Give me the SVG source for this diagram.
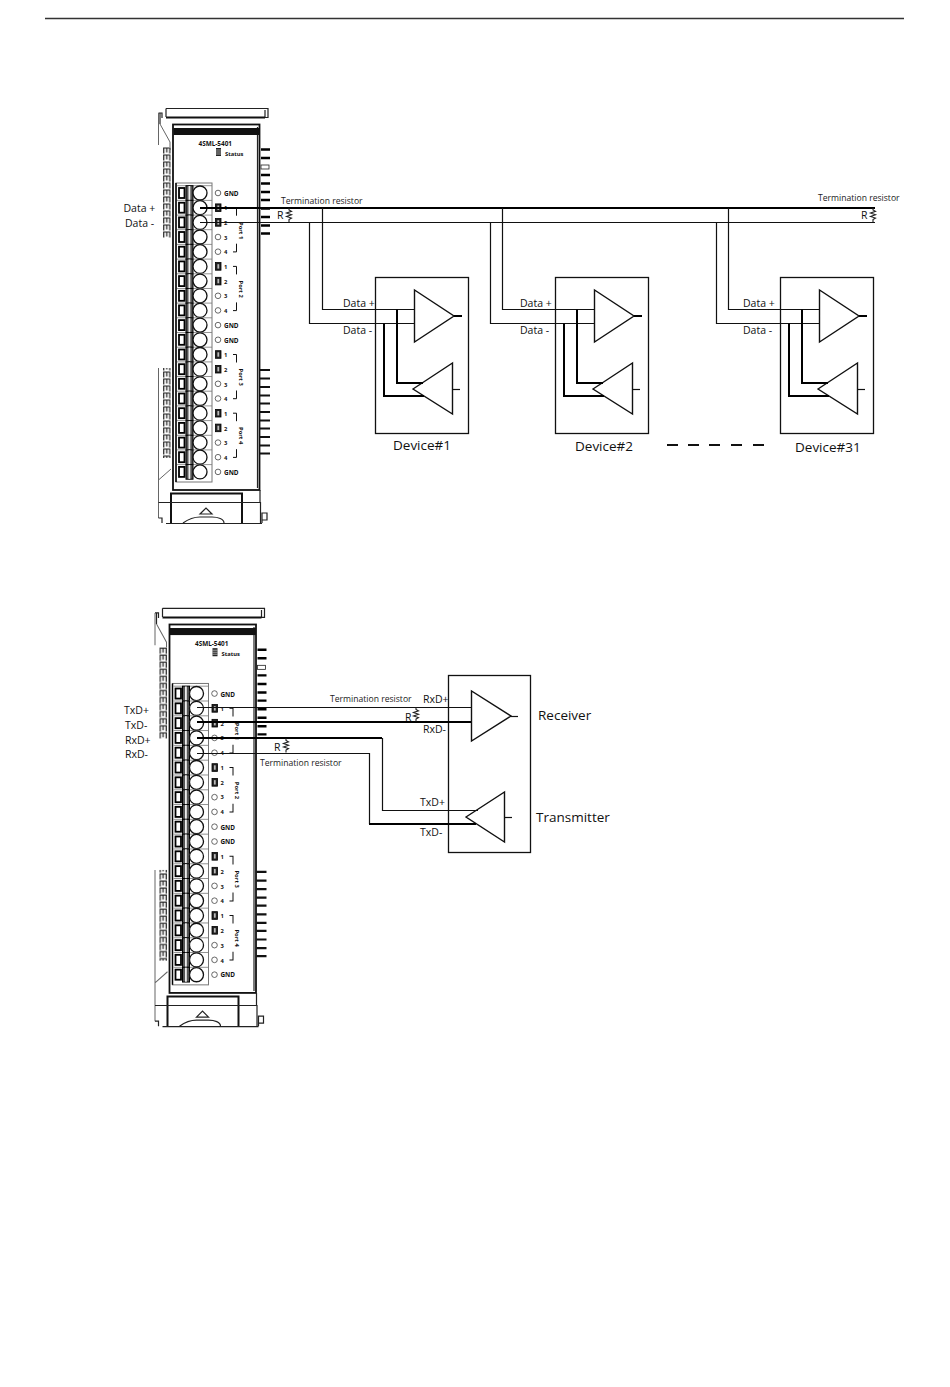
<svg xmlns="http://www.w3.org/2000/svg" xmlns:xlink="http://www.w3.org/1999/xlink" width="950" height="1387" viewBox="0 0 950 1387">
<style>
text{font-family:"Open Sans","Noto Sans","Liberation Sans",sans-serif;fill:#111}
.lab{font-size:10.5px}
.term{font-size:8.6px;fill:#222}
.dev{font-size:13.5px}
.m{font-size:5.8px;font-weight:700}
.mg{font-size:6.4px;font-weight:700}
.o{fill:none;stroke:#222;stroke-width:1.2}
.ob{fill:none;stroke:#111;stroke-width:2}
.g{fill:none;stroke:#666;stroke-width:1}
.tri{fill:#fff;stroke:#111;stroke-width:1.400}
.box{fill:#fff;stroke:#111;stroke-width:1.300}
.thin{fill:none;stroke:#111;stroke-width:1.200}
.thick{fill:none;stroke:#000;stroke-width:2}
.res{fill:none;stroke:#222;stroke-width:1.100}
</style>
<defs>
<pattern id="fin" width="7.500" height="7" patternUnits="userSpaceOnUse" x="163" y="147">
<rect width="7.500" height="7" fill="#fff"/>
<path d="M.7 6.500V1H6.800V6.500M3.700 1V5.500" fill="none" stroke="#222" stroke-width="1.200"/>
</pattern>
<g id="row">
<path d="M177 -7.300H212" fill="none" stroke="#777" stroke-width=".8"/>
<rect x="179" y="-5" width="5.500" height="10" fill="#fff" stroke="#000" stroke-width="1.800"/>
<rect x="186" y="-7.300" width="7" height="14.600" fill="#555" stroke="#000" stroke-width="1"/>
<rect x="188.500" y="-7" width="1.800" height="14" fill="#eee"/>
<circle cx="200" cy="0" r="7" fill="#fff" stroke="#111" stroke-width="1.300"/>
</g>
<circle id="pin" cx="218" cy="0" r="2.800" fill="#fff" stroke="#444" stroke-width=".8"/>
<g id="led"><rect x="215.500" y="-3.800" width="5.500" height="7.600" fill="#222" stroke="#000" stroke-width=".8"/><rect x="217.400" y="-2.200" width="1.800" height="4.400" fill="#bbb"/></g>
<path id="bracket" d="M233 0H236.500V8M236.500 36V44.200H233" fill="none" stroke="#111" stroke-width="1"/>
<g id="module-art">
<path class="o" d="M166 108.500H268V117.500H265V110"/>
<path class="ob" d="M166 117.500H265"/>
<path class="o" d="M166 108.500V117M160 113V124M158.500 113H162V118"/>
<path class="g" d="M160 124L170 142V150M158.500 113V145M158.500 368V518M171 469L158.500 480"/>
<rect x="173" y="124.500" width="86.500" height="365.500" fill="#fff" stroke="#111" stroke-width="1.800"/>
<path class="o" d="M257.500 127V488"/>
<rect x="173.500" y="128" width="86" height="7" fill="#111"/>
<rect x="163" y="147" width="7.500" height="91" fill="url(#fin)"/>
<rect x="163" y="368" width="7.500" height="90" fill="url(#fin)"/>
<path d="M261 149.500H270M261 158H270M261 175H270M261 183.500H270M261 192H270M261 200H270M261 208.500H270M261 217H270M261 225.500H270M261 233.500H270" stroke="#000" stroke-width="2.400" fill="none"/>
<rect x="261" y="165" width="8" height="4" fill="#fff" stroke="#222" stroke-width=".8"/>
<path d="M260 370H270M260 378.500H270M260 387H270M260 395.500H270M260 403.500H270M260 412H270M260 420.500H270M260 428.500H270M260 437H270M260 445.500H270M260 453.500H270" stroke="#111" stroke-width="2.200" fill="none"/>
<rect x="176" y="183" width="36" height="299" fill="#fff" stroke="#777" stroke-width="1"/>
<path d="M176 183V482" stroke="#000" stroke-width="1.500" fill="none"/>
<use xlink:href="#row" y="193"/><use xlink:href="#row" y="207.700"/><use xlink:href="#row" y="222.400"/><use xlink:href="#row" y="237"/><use xlink:href="#row" y="251.700"/><use xlink:href="#row" y="266.400"/><use xlink:href="#row" y="281.100"/><use xlink:href="#row" y="295.800"/><use xlink:href="#row" y="310.400"/><use xlink:href="#row" y="325.100"/><use xlink:href="#row" y="339.800"/><use xlink:href="#row" y="354.500"/><use xlink:href="#row" y="369.200"/><use xlink:href="#row" y="383.800"/><use xlink:href="#row" y="398.500"/><use xlink:href="#row" y="413.200"/><use xlink:href="#row" y="427.900"/><use xlink:href="#row" y="442.600"/><use xlink:href="#row" y="457.200"/><use xlink:href="#row" y="471.900"/>
<use xlink:href="#pin" y="193"/><use xlink:href="#pin" y="237"/><use xlink:href="#pin" y="251.700"/><use xlink:href="#pin" y="295.800"/><use xlink:href="#pin" y="310.400"/><use xlink:href="#pin" y="325.100"/><use xlink:href="#pin" y="339.800"/><use xlink:href="#pin" y="383.800"/><use xlink:href="#pin" y="398.500"/><use xlink:href="#pin" y="442.600"/><use xlink:href="#pin" y="457.200"/><use xlink:href="#pin" y="471.900"/>
<use xlink:href="#led" y="207.700"/><use xlink:href="#led" y="222.400"/><use xlink:href="#led" y="266.400"/><use xlink:href="#led" y="281.100"/><use xlink:href="#led" y="354.500"/><use xlink:href="#led" y="369.200"/><use xlink:href="#led" y="413.200"/><use xlink:href="#led" y="427.900"/>
<use xlink:href="#bracket" y="207.700"/><use xlink:href="#bracket" y="266.400"/><use xlink:href="#bracket" y="354.500"/><use xlink:href="#bracket" y="413.200"/>
<rect x="216" y="148" width="5" height="8" fill="#222"/><path d="M216 150H221M216 152H221M216 154H221" stroke="#fff" stroke-width=".6"/>
<path class="ob" d="M171 523V493.500H242V523"/>
<path class="o" d="M158.500 502.500H260.500V523M260 490V502M166 523.500H262M158.500 518H162V523M262 523V513H267V520H262"/>
<path class="o" d="M200 514L206 508L212 514Z"/>
<path class="o" d="M183 523C190 518 194 517 200 517H212C218 517 224 519 224 523"/>
</g>
<g id="dev-art">
<rect class="box" x="375.500" y="277.500" width="93" height="156"/>
<path class="tri" d="M414.500 290V342L454 316Z"/>
<path class="thick" d="M454 316H462"/>
<path class="tri" d="M413 389L452.500 363V414Z"/>
<path class="thin" d="M452 389.500H460"/>
<path class="thin" d="M375.500 309.500H414.500M375.500 323.500H414.500"/>
<path class="thick" d="M397 309.500V383H423"/>
<path class="thick" d="M384 323.500V396H424"/>
</g>
<path id="zig" class="res" d="M0 0V2L2.500 3.300L-2.500 5L2.500 6.700L-2.500 8.400L2.500 10.100L0 11.500V14"/>
</defs>

<path id="page-rule" d="M45 18.500H904" stroke="#333" stroke-width="1.300" fill="none"/>

<g id="module-1">
<use xlink:href="#module-art"/>
<text class="mg" x="198.500" y="146">4SML-5401</text>
<text class="m" x="225" y="156">Status</text>
<text class="mg" x="224" y="196">GND</text>
<text class="m" x="224" y="210">1</text><text class="m" x="224" y="225">2</text><text class="m" x="224" y="239.500">3</text><text class="m" x="224" y="254">4</text>
<text class="m" x="224" y="269">1</text><text class="m" x="224" y="283.500">2</text><text class="m" x="224" y="298">3</text><text class="m" x="224" y="313">4</text>
<text class="mg" x="224" y="328">GND</text><text class="mg" x="224" y="342.500">GND</text>
<text class="m" x="224" y="357">1</text><text class="m" x="224" y="372">2</text><text class="m" x="224" y="386.500">3</text><text class="m" x="224" y="401">4</text>
<text class="m" x="224" y="416">1</text><text class="m" x="224" y="430.500">2</text><text class="m" x="224" y="445">3</text><text class="m" x="224" y="460">4</text>
<text class="mg" x="224" y="474.500">GND</text>
<text class="m" transform="translate(238.500 222) rotate(90)">Port 1</text>
<text class="m" transform="translate(238.500 280.500) rotate(90)">Port 2</text>
<text class="m" transform="translate(238.500 368.500) rotate(90)">Port 3</text>
<text class="m" transform="translate(238.500 427) rotate(90)">Port 4</text>
</g>

<g id="module-2" transform="translate(-3.500 499) scale(1 1.008)">
<use xlink:href="#module-art"/>
<text class="mg" x="198.500" y="146">4SML-5401</text>
<text class="m" x="225" y="156">Status</text>
<text class="mg" x="224" y="196">GND</text>
<text class="m" x="224" y="210">1</text><text class="m" x="224" y="225">2</text><text class="m" x="224" y="239.500">3</text><text class="m" x="224" y="254">4</text>
<text class="m" x="224" y="269">1</text><text class="m" x="224" y="283.500">2</text><text class="m" x="224" y="298">3</text><text class="m" x="224" y="313">4</text>
<text class="mg" x="224" y="328">GND</text><text class="mg" x="224" y="342.500">GND</text>
<text class="m" x="224" y="357">1</text><text class="m" x="224" y="372">2</text><text class="m" x="224" y="386.500">3</text><text class="m" x="224" y="401">4</text>
<text class="m" x="224" y="416">1</text><text class="m" x="224" y="430.500">2</text><text class="m" x="224" y="445">3</text><text class="m" x="224" y="460">4</text>
<text class="mg" x="224" y="474.500">GND</text>
<text class="m" transform="translate(238.500 222) rotate(90)">Port 1</text>
<text class="m" transform="translate(238.500 280.500) rotate(90)">Port 2</text>
<text class="m" transform="translate(238.500 368.500) rotate(90)">Port 3</text>
<text class="m" transform="translate(238.500 427) rotate(90)">Port 4</text>
</g>

<g id="device-1"><use xlink:href="#dev-art"/><text class="dev" x="393" y="450">Device#1</text></g>
<g id="device-2"><use xlink:href="#dev-art" x="180"/><text class="dev" x="575" y="451">Device#2</text></g>
<g id="device-31"><use xlink:href="#dev-art" x="405"/><text class="dev" x="795" y="452">Device#31</text></g>

<g id="rx-tx-device">
<rect class="box" x="448.500" y="675.500" width="82" height="177"/>
<path class="tri" d="M471.500 691V741L511 716Z"/>
<path class="thin" d="M511 716.500H518"/>
<path class="tri" d="M466 817L504.500 792V842Z"/>
<path class="thin" d="M504 817.500H512"/>
<text class="dev" x="538" y="720">Receiver</text>
<text class="dev" x="536" y="822">Transmitter</text>
</g>

<g id="connectors">
<path class="thick" d="M200 208H875"/>
<path class="thin" d="M200 222.500H875"/>
<path class="thin" d="M322.500 208V309.500H375.500M309.500 222.500V323.500H375.500"/>
<path class="thin" d="M502.500 208V309.500H555.500M490.500 222.500V323.500H555.500"/>
<path class="thin" d="M728.500 208V309.500H780.500M716.500 222.500V323.500H780.500"/>
<use xlink:href="#zig" x="289" y="208"/>
<use xlink:href="#zig" x="873" y="208"/>
<path d="M667 445H678M688 445H699M709 445H720M731 445H742M753 445H764" stroke="#111" stroke-width="1.800" fill="none"/>
<path class="thin" d="M197 707.500H471"/>
<path class="thick" d="M197 722H471"/>
<path class="thick" d="M197 738H382"/>
<path class="thin" d="M382.500 738V810.500H478"/>
<path class="thin" d="M197 753.500H369.500V824"/>
<path class="thick" d="M369 824H476"/>
<use xlink:href="#zig" x="416" y="707.500"/>
<use xlink:href="#zig" x="286" y="738.500"/>
</g>

<g id="labels">
<text class="lab" x="123.500" y="212">Data +</text>
<text class="lab" x="125" y="227">Data -</text>
<text class="term" x="281" y="204">Termination resistor</text>
<text class="term" x="818" y="201">Termination resistor</text>
<text class="lab" x="277" y="219">R</text>
<text class="lab" x="861" y="219">R</text>
<text class="lab" x="343" y="307">Data +</text><text class="lab" x="343" y="334">Data -</text>
<text class="lab" x="520" y="307">Data +</text><text class="lab" x="520" y="334">Data -</text>
<text class="lab" x="743" y="307">Data +</text><text class="lab" x="743" y="334">Data -</text>
<text class="lab" x="124" y="714">TxD+</text>
<text class="lab" x="125" y="729">TxD-</text>
<text class="lab" x="125" y="744">RxD+</text>
<text class="lab" x="125" y="758">RxD-</text>
<text class="term" x="330" y="702">Termination resistor</text>
<text class="term" x="260" y="766">Termination resistor</text>
<text class="lab" x="423" y="703">RxD+</text>
<text class="lab" x="423" y="733">RxD-</text>
<text class="lab" x="405" y="721">R</text>
<text class="lab" x="274" y="751">R</text>
<text class="lab" x="420" y="806">TxD+</text>
<text class="lab" x="420" y="836">TxD-</text>
</g>
</svg>
